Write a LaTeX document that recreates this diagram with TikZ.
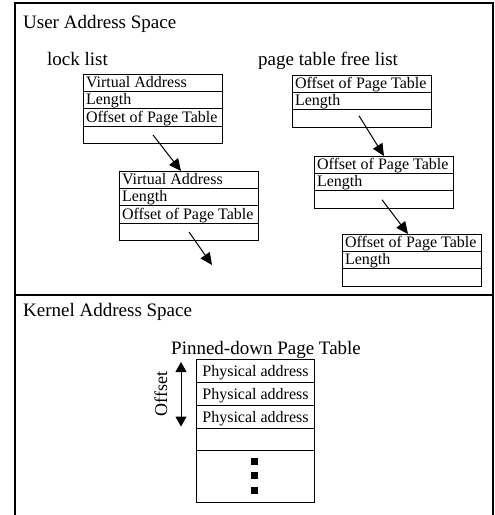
\documentclass[tikz,border=0pt]{standalone}
\usepackage{fontspec}
\setmainfont{Liberation Serif}
\usetikzlibrary{arrows.meta,calc,positioning,shapes.multipart}

\newcommand\rowstrut{\rule[-3.6pt]{0pt}{16.2pt}}
\tikzset{
    lbl/.style={font=\fontsize{19}{22}\selectfont, inner sep=0pt, anchor=base west},
    listbox/.style={draw, line width=1pt, rectangle split, rectangle split part align=left,
        minimum width=139pt, inner xsep=2.5pt, inner ysep=0pt, anchor=north west,
        font=\fontsize{16}{16.2}\selectfont},
    tablebox/.style={draw, line width=1pt, rectangle split, rectangle split parts=5,
        rectangle split part align=center, minimum width=118pt, inner xsep=3pt,
        inner ysep=0pt, anchor=north west, font=\fontsize{16}{19}\selectfont},
    frame/.style={line width=1.2pt},
    link/.style={line width=1pt, -{Triangle[length=12pt,width=11pt]}},
}

\begin{document}
\begin{tikzpicture}[x=1pt, y=-1pt]
    \useasboundingbox (0,0) rectangle (495,515);
    % address space frame
    \draw [frame] (15,515) -- (15,3) -- (493,3) -- (493,515);
    \draw [frame] (15,295) -- (493,295);

    \node [lbl] (usr) at (23,28) {User Address Space};
    \node [lbl] (krn) at (23,316) {Kernel Address Space};

    % lock list
    \node [lbl] (lcklst) at (47,65) {lock list};
    \node [listbox, rectangle split parts=4] (lk1) at (83,74)
        {\rowstrut Virtual Address \nodepart{two}\rowstrut Length
         \nodepart{three}\rowstrut Offset of Page Table \nodepart{four}\rowstrut};
    \node [listbox, rectangle split parts=4] (lk2) at (119,171)
        {\rowstrut Virtual Address \nodepart{two}\rowstrut Length
         \nodepart{three}\rowstrut Offset of Page Table \nodepart{four}\rowstrut};
    \coordinate (lkend) at (212,265);
    \draw [link] ($(lk1.three split)!.5!(lk1.south)$) -- ($(lk2.north)+(-8,0)$);
    \draw [link] ($(lk2.three split)!.5!(lk2.south)$) -- (lkend);

    % page table free list
    \node [lbl] (freelst) at (258,65) {page table free list};
    \node [listbox, rectangle split parts=3] (fr1) at (292,75)
        {\rowstrut Offset of Page Table \nodepart{two}\rowstrut Length \nodepart{three}\rowstrut};
    \node [listbox, rectangle split parts=3] (fr2) at (314,156)
        {\rowstrut Offset of Page Table \nodepart{two}\rowstrut Length \nodepart{three}\rowstrut};
    \node [listbox, rectangle split parts=3] (fr3) at (342,234)
        {\rowstrut Offset of Page Table \nodepart{two}\rowstrut Length \nodepart{three}\rowstrut};
    \draw [link] ($(fr1.two split)!.5!(fr1.south)+(-3,-3)$) -- (fr2.north);
    \draw [link] ($(fr2.two split)!.5!(fr2.south)+(-2,0)$) -- ($(fr3.north)+(-4,0)$);

    % pinned-down page table
    \node [lbl] (pttl) at (171,354) {Pinned-down Page Table};
    \node [tablebox] (pt) at (196,359)
        {\rule[-6pt]{0pt}{22pt}Physical address
         \nodepart{two}\rule[-6pt]{0pt}{22pt}Physical address
         \nodepart{three}\rule[-6pt]{0pt}{22pt}Physical address
         \nodepart{four}\rule[-6pt]{0pt}{21pt}
         \nodepart{five}\rule[-25pt]{0pt}{51pt}};
    \foreach \k in {0,1,2}
        \fill ($(pt.four split)+(-5,7.2+14.4*\k)$) rectangle ++(7,7);
    \draw [line width=1pt, {Triangle[length=10pt,width=11pt]}-{Triangle[length=10pt,width=11pt]}]
        ($(pt.north west)+(-15,3)$) -- ($(pt.three split west)+(-15,-2)$);
    \node [font=\fontsize{18}{20}\selectfont, inner sep=0pt, rotate=90, anchor=base] (offlbl)
        at ($(pt.north west)!.5!(pt.three split west)+(-29,0)$) {Offset};
\end{tikzpicture}
\end{document}
